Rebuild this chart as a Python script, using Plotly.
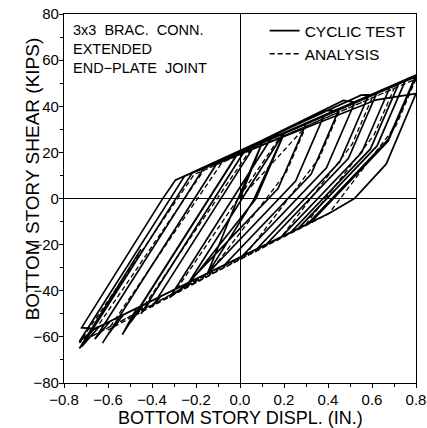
import plotly.graph_objects as go

# ---- data ----
test_x = [0.00, 0.10, -0.027, -0.15, 0.06, 0.20, 0.073, -0.25, 0.197, 0.30,
          0.173, -0.236, -0.32, 0.138, 0.38, 0.253, -0.147, -0.36, -0.40, 0.064,
          0.45, 0.323, -0.07, -0.41, -0.45, 0.023, 0.52, 0.393, 0.009, -0.44,
          -0.50, -0.009, 0.58, 0.453, 0.075, -0.47, -0.535, -0.011, 0.38, 0.43,
          0.62, 0.493, 0.121, -0.53, -0.60, -0.101, 0.68, 0.553, 0.187, -0.55,
          -0.625, -0.101, 0.47, 0.52, 0.72, 0.593, 0.232, -0.59, -0.66, -0.165,
          0.75, 0.623, 0.264, -0.66, -0.72, -0.355, -0.294, 0.55, 0.60, 0.80,
          0.673, 0.321, -0.64, -0.72, -0.217, 0.62, 0.80, 0.665, 0.52, 0.41,
          -0.66, -0.73, -0.252, 0.80, 0.673, 0.308, -0.67, -0.73, -0.45]
test_y = [0.0, 24.0, -4.0, -33.0, -1.0, 28.0, 0.0, -39.0, 28.1, 32.3,
          4.3, -36.6, -43.0, 25.6, 35.6, 7.6, -32.4, -42.4, -47.0, 22.6,
          38.5, 10.5, -28.8, -44.8, -50.0, 20.9, 41.3, 13.3, -25.1, -46.2,
          -54.0, 19.6, 43.8, 15.8, -22.0, -47.6, -59.0, 19.5, 38.0, 38.2,
          45.4, 17.4, -19.8, -50.4, -59.0, 15.9, 47.9, 19.9, -16.7, -51.4,
          -62.7, 15.8, 42.5, 41.8, 49.5, 21.5, -14.6, -53.2, -61.0, 13.2,
          50.8, 22.8, -13.1, -56.5, -56.0, -0.6, 7.9, 44.8, 45.0, 52.8,
          24.8, -10.4, -55.6, -64.3, 11.1, 42.8, 45.5, 15.0, 0.0, -6.2,
          -56.5, -62.0, 9.7, 53.5, 25.5, -11.0, -57.0, -65.0, -22.0]

analysis_x = [0.00, 0.30, 0.21, -0.135, -0.30, 0.18, 0.45, 0.36, 0.026, -0.45,
              0.045, 0.60, 0.51, 0.188, -0.60, -0.081, 0.70, 0.61, 0.296, -0.68,
              -0.164, 0.80, 0.71, 0.403, -0.73, -0.209, 0.20]
analysis_y = [0.0, 31.3, 11.3, -31.8, -41.0, 26.4, 37.5, 17.5, -24.3, -48.5,
              20.8, 43.6, 23.6, -16.7, -57.0, 15.7, 47.7, 27.7, -11.6, -60.0,
              12.3, 51.8, 31.8, -6.6, -62.5, 10.4, 27.2]

x_ticks = [-0.8, -0.6, -0.4, -0.2, 0.0, 0.2, 0.4, 0.6, 0.8]
y_ticks = [-80, -60, -40, -20, 0, 20, 40, 60, 80]

FONT = "Liberation Sans, Arial, sans-serif"

fig = go.Figure()
fig.add_trace(go.Scatter(x=test_x, y=test_y, mode="lines", name="CYCLIC TEST",
                         line=dict(color="black", width=1.7)))
fig.add_trace(go.Scatter(x=analysis_x, y=analysis_y, mode="lines", name="ANALYSIS",
                         line=dict(color="black", width=1.3, dash="5px,3px")))

axis_common = dict(showline=True, linecolor="black", linewidth=1.3, mirror=True,
                   showgrid=False, zeroline=True, zerolinecolor="black",
                   zerolinewidth=1.2, ticks="outside", tickcolor="black",
                   ticklen=4, tickwidth=1.2, ticklabeloverflow="allow",
                   tickfont=dict(family=FONT, size=15, color="black"))

fig.update_xaxes(range=[-0.8, 0.8], tickvals=x_ticks, tickformat=".1f",
                 ticklabelstandoff=-1,
                 minor=dict(ticks="outside", dtick=0.1, ticklen=3,
                            tickcolor="black", tickwidth=1.1),
                 **axis_common)
fig.update_yaxes(range=[-80, 80], tickvals=y_ticks,
                 ticklabelstandoff=-3,
                 minor=dict(ticks="outside", dtick=10, ticklen=3,
                            tickcolor="black", tickwidth=1.1),
                 **axis_common)

annos = [
    dict(text="BOTTOM STORY DISPL. (IN.)", x=0.5, y=-0.095, xref="paper", yref="paper",
         xanchor="center", yanchor="middle", showarrow=False,
         font=dict(family=FONT, size=18, color="black")),
    dict(text="BOTTOM STORY SHEAR (KIPS)", x=-0.087, y=0.553, xref="paper", yref="paper",
         xanchor="center", yanchor="middle", showarrow=False, textangle=-90,
         font=dict(family=FONT, size=19, color="black")),
    dict(text="3x3  BRAC.  CONN.<br>EXTENDED<br>END\u2212PLATE  JOINT",
         x=0.02, y=0.985, xref="paper", yref="paper", align="left",
         xanchor="left", yanchor="top", showarrow=False,
         font=dict(family=FONT, size=14.5, color="black")),
]

fig.update_layout(
    width=427, height=428,
    margin=dict(l=64, r=11, t=14, b=45, autoexpand=False),
    paper_bgcolor="white", plot_bgcolor="white",
    showlegend=True,
    legend=dict(x=0.57, y=1.0, xanchor="left", yanchor="top",
                bgcolor="rgba(0,0,0,0)", borderwidth=0,
                font=dict(family=FONT, size=15.5, color="black"),
                tracegroupgap=0),
    annotations=annos,
)

fig.write_html("out.html")
